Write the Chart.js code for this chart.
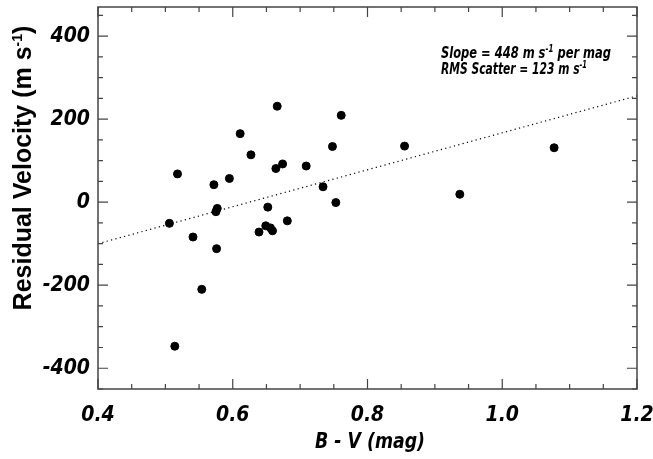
<!DOCTYPE html>
<html>
<head>
<meta charset="utf-8">
<script src="https://cdn.jsdelivr.net/npm/chart.js@4/dist/chart.umd.min.js"></script>
<style>
  html, body { margin: 0; padding: 0; background: #fff; }
  #wrap { width: 653px; height: 459px; }
</style>
</head>
<body>
<div id="wrap"><canvas id="chart" width="653" height="459"></canvas></div>
<script>
// Data
const bvColor = [0.518, 0.611, 0.627, 0.666, 0.761, 0.748, 0.674, 0.664, 0.709, 0.595,
  0.572, 0.734, 0.753, 0.506, 0.577, 0.575, 0.652, 0.541, 0.576, 0.554,
  0.514, 0.639, 0.649, 0.656, 0.659, 0.681, 0.855, 0.937, 1.077];
const residVel = [68, 165, 114, 231, 209, 134, 92, 81, 87, 57,
  42, 37, -1, -51, -15, -23, -12, -84, -112, -210,
  -347, -72, -57, -62, -69, -45, 135, 19, 131];
const fitX = [0.4, 1.2];
const fitY = [-100, 256];
const xTicks = [0.4, 0.6, 0.8, 1.0, 1.2];
const yTicks = [-400, -200, 0, 200, 400];

const NARROW = "'DejaVu Sans Condensed', 'Liberation Sans Narrow', sans-serif";
const WIDE = "'Liberation Sans', Arial, sans-serif";

// draw text with a "-1" superscript piece, squeezed to a given width if asked
const richWidth = (ctx, parts, font, supFont) => parts.reduce((w, p) => {
  ctx.font = p.sup ? supFont : font;
  return w + ctx.measureText(p.t).width;
}, 0);
const drawRich = (ctx, parts, x, y, font, supFont, rise, fitW) => {
  const w = richWidth(ctx, parts, font, supFont);
  const sx = fitW ? fitW / w : 1;
  ctx.save();
  ctx.translate(x, y);
  ctx.scale(sx, 1);
  let cx = 0;
  parts.forEach(p => {
    ctx.font = p.sup ? supFont : font;
    ctx.fillText(p.t, cx, p.sup ? -rise : 0);
    cx += ctx.measureText(p.t).width;
  });
  ctx.restore();
};

// Frame, inward ticks, titles and the fit label
const decor = {
  id: 'decor',
  afterDraw(chart) {
    const { ctx, chartArea: a, scales: { x, y } } = chart;
    ctx.save();
    ctx.strokeStyle = '#444';
    ctx.lineWidth = 1.5;
    ctx.strokeRect(a.left, a.top, a.right - a.left, a.bottom - a.top);

    ctx.lineWidth = 1.2;
    ctx.beginPath();
    for (let v = 0.4; v <= 1.2001; v += 0.05) {
      const px = x.getPixelForValue(v);
      const major = Math.abs(v * 5 - Math.round(v * 5)) < 1e-6;
      const len = major ? 10 : 5;
      ctx.moveTo(px, a.bottom); ctx.lineTo(px, a.bottom - len);
      ctx.moveTo(px, a.top); ctx.lineTo(px, a.top + len);
    }
    for (let v = -450; v <= 450; v += 50) {
      const py = y.getPixelForValue(v);
      const len = v % 200 === 0 ? 10 : 5;
      ctx.moveTo(a.left, py); ctx.lineTo(a.left + len, py);
      ctx.moveTo(a.right, py); ctx.lineTo(a.right - len, py);
    }
    ctx.stroke();

    ctx.fillStyle = '#000';
    ctx.textBaseline = 'alphabetic';
    ctx.textAlign = 'left';

    // x title
    drawRich(ctx, [{ t: 'B - V (mag)' }], 315, 448, `italic bold 21px ${NARROW}`, '', 0, 110);

    // y title
    const yParts = [{ t: 'Residual Velocity (m s' }, { t: '-1', sup: true }, { t: ')' }];
    const yFont = `bold 25px ${WIDE}`, ySup = `bold 14px ${WIDE}`;
    const yw = richWidth(ctx, yParts, yFont, ySup);
    ctx.save();
    ctx.translate(31, 168);
    ctx.rotate(-Math.PI / 2);
    drawRich(ctx, yParts, -yw / 2, 0, yFont, ySup, 9);
    ctx.restore();

    // fit annotation
    const aFont = `italic bold 16px ${NARROW}`, aSup = `italic bold 10px ${NARROW}`;
    drawRich(ctx, [{ t: 'Slope = 448 m s' }, { t: '-1', sup: true }, { t: ' per mag' }], 441, 58, aFont, aSup, 6, 170);
    drawRich(ctx, [{ t: 'RMS Scatter = 123 m s' }, { t: '-1', sup: true }], 441, 74, aFont, aSup, 6, 146);
    ctx.restore();
  }
};

const tickFont = { family: NARROW, size: 21, style: 'italic', weight: 'bold' };

new Chart(document.getElementById('chart'), {
  type: 'scatter',
  data: {
    datasets: [{
      label: 'Stars',
      data: bvColor.map((b, i) => ({ x: b, y: residVel[i] })),
      backgroundColor: '#000',
      borderColor: '#000',
      pointRadius: 4,
      pointHoverRadius: 4
    }, {
      label: 'Fit',
      type: 'line',
      data: fitX.map((b, i) => ({ x: b, y: fitY[i] })),
      borderColor: '#000',
      borderWidth: 1.2,
      borderDash: [1.2, 3.3],
      pointRadius: 0,
      fill: false
    }]
  },
  options: {
    responsive: false,
    animation: false,
    events: [],
    layout: { padding: { top: 7, right: 16, left: 0, bottom: 0 }, autoPadding: false },
    plugins: { legend: { display: false }, tooltip: { enabled: false } },
    scales: {
      x: {
        type: 'linear',
        min: 0.4,
        max: 1.2,
        afterBuildTicks: s => { s.ticks = xTicks.map(v => ({ value: v })); },
        afterFit: s => { s.height = 70; s.paddingLeft = 0; s.paddingRight = 0; },
        ticks: { font: tickFont, color: '#000', padding: 6, maxRotation: 0, callback: v => v.toFixed(1) },
        grid: { display: false },
        border: { display: false }
      },
      y: {
        type: 'linear',
        min: -450,
        max: 470,
        afterBuildTicks: s => { s.ticks = yTicks.map(v => ({ value: v })); },
        afterFit: s => { s.width = 98; s.paddingTop = 0; s.paddingBottom = 0; },
        ticks: { font: tickFont, color: '#000', padding: 0 },
        grid: { display: false },
        border: { display: false }
      }
    }
  },
  plugins: [decor]
});
</script>
</body>
</html>
